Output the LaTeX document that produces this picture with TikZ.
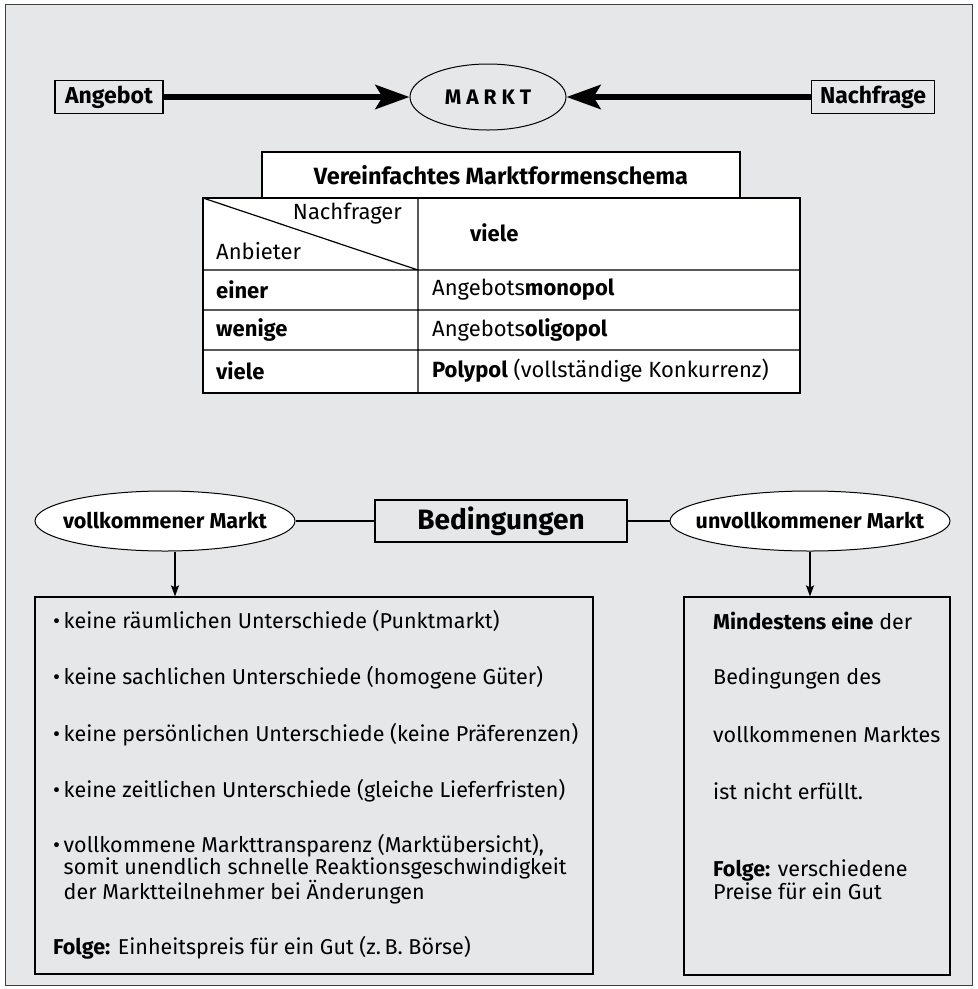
\documentclass[tikz,border=0pt]{standalone}
\usepackage{fontspec}
\setmainfont{Fira Sans}
\usetikzlibrary{arrows.meta,shapes.geometric}
\definecolor{bggrey}{RGB}{230,231,233}
\tikzset{
  frame/.style={draw=black!75,fill=bggrey,line width=1pt},
  tag/.style={draw,line width=1.5pt,inner sep=0pt,font=\bfseries\fontsize{23}{26}\selectfont},
  oval/.style={ellipse,draw,fill=white,line width=1pt,inner sep=0pt,font=\bfseries\fontsize{21.5}{24}\selectfont},
  bigarrow/.style={line width=6pt,-{Stealth[length=34pt,width=24pt,inset=7pt]}},
  smallarrow/.style={line width=1.6pt,-{Stealth[length=11pt,width=8pt,inset=2pt]}},
  panel/.style={draw,line width=1.2pt,inner sep=0pt},
  txt/.style={anchor=west,inner sep=0pt,font=\fontsize{21.5}{21}\selectfont},
  cell/.style={anchor=west,inner sep=0pt,font=\fontsize{22}{26}\selectfont},
  bcell/.style={cell,font=\bfseries\fontsize{22}{26}\selectfont},
}
\newcommand{\ovaltext}[1]{\makebox[0pt]{#1}}

\begin{document}
\begin{tikzpicture}[x=1pt,y=-1pt]
      \useasboundingbox (0,0) rectangle (978,989);
      \draw[frame] (5,4) rectangle (972,985);
      % top row
      \node[tag,minimum width=108pt,minimum height=33pt] (ang) at (109,97) {Angebot};
      \node[oval,minimum width=156pt,minimum height=66pt,fill=bggrey,font=\bfseries\fontsize{21}{24}\selectfont] (markt) at (488,97) {\ovaltext{M A R K T}};
      \node[tag,minimum width=123pt,minimum height=33pt] (nach) at (873,97) {Nachfrage};
      \draw[bigarrow] (ang) -- (markt);
      \draw[bigarrow] (nach) -- (markt);
      % table
      \node[draw,line width=2.5pt,fill=white,minimum width=478pt,minimum height=46pt,font=\bfseries\fontsize{23.5}{26}\selectfont] (title) at (501,175) {Vereinfachtes Marktformenschema};
      \draw[line width=2.5pt,fill=white] (203,198) rectangle (800,393);
      \draw[line width=1.2pt] (203,270) -- (800,270) (203,310) -- (800,310) (203,350) -- (800,350)
        (418,198) -- (418,393) (203,198) -- (418,270);
      \node[cell,anchor=east] (nachfrager) at (402,214) {Nachfrager};
      \node[cell] (anbieter) at (216,251) {Anbieter};
      \node[bcell] (viele) at (470,233) {viele};
      \node[bcell] (einer) at (216,290) {einer};
      \node[bcell] (wenige) at (216,330) {wenige};
      \node[bcell] (viele2) at (216,371) {viele};
      \node[cell] (mono) at (432,290) {Angebots\textbf{monopol}};
      \node[cell] (oligo) at (432,330) {Angebots\textbf{oligopol}};
      \node[cell] (poly) at (432,371) {\textbf{Polypol} (vollständige Konkurrenz)};
      % conditions
      \node[oval,minimum width=260pt,minimum height=60pt] (voll) at (165,521) {\ovaltext{vollkommener Markt}};
      \node[tag,line width=1.2pt,minimum width=252pt,minimum height=42pt,font=\bfseries\fontsize{28}{30}\selectfont] (bed) at (501,521) {Bedingungen};
      \node[oval,minimum width=280pt,minimum height=60pt] (unvoll) at (810,521) {\ovaltext{unvollkommener Markt}};
      \draw[line width=1.2pt] (voll) -- (bed) -- (unvoll);
      % boxes
      \node[panel,minimum width=558pt,minimum height=377pt] (lbox) at (314,785.5) {};
      \node[panel,minimum width=266pt,minimum height=378pt] (rbox) at (817,786) {};
      \draw[smallarrow] ([xshift=10pt]voll.south) -- ([xshift=10pt]voll.south |- lbox.north);
      \draw[smallarrow] (unvoll.south) -- (unvoll.south |- rbox.north);
      % left text
      \node[txt] (l1) at (53,621) {\textbullet\,keine räumlichen Unterschiede (Punktmarkt)};
      \node[txt] (l2) at (53,678) {\textbullet\,keine sachlichen Unterschiede (homogene Güter)};
      \node[txt] (l3) at (53,735) {\textbullet\,keine persönlichen Unterschiede (keine Präferenzen)};
      \node[txt] (l4) at (53,791) {\textbullet\,keine zeitlichen Unterschiede (gleiche Lieferfristen)};
      \node[txt,align=left] (l5) at (53,869) {\textbullet\,vollkommene Markttransparenz (Marktübersicht),\\
        \hphantom{\textbullet\,}somit unendlich schnelle Reaktionsgeschwindigkeit\\
        \hphantom{\textbullet\,}der Marktteilnehmer bei Änderungen};
      \node[txt] (lfolge) at (53,948) {\textbf{Folge:} Einheitspreis für ein Gut (z.\,B. Börse)};
      % right text
      \node[txt] (r1) at (713,621) {\textbf{Mindestens eine} der};
      \node[txt] (r2) at (713,678) {Bedingungen des};
      \node[txt] (r3) at (713,735) {vollkommenen Marktes};
      \node[txt] (r4) at (713,791) {ist nicht erfüllt.};
      \node[txt,align=left] (rfolge) at (713,879.5) {\textbf{Folge:} verschiedene\\Preise für ein Gut};
\end{tikzpicture}
\end{document}
